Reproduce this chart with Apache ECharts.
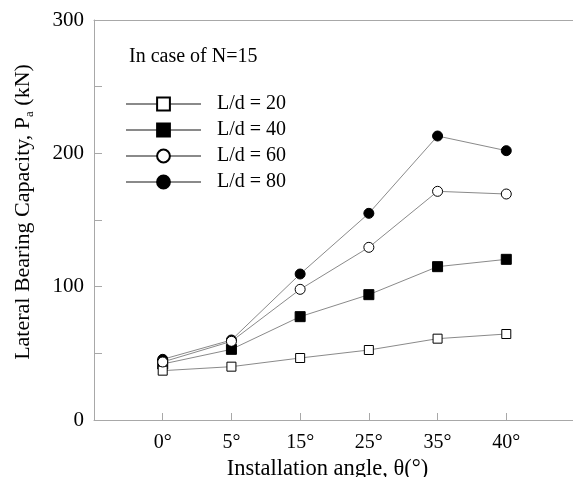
<!DOCTYPE html>
<html><head><meta charset="utf-8">
<script src="https://cdn.jsdelivr.net/npm/echarts@6/dist/echarts.min.js"></script>
<style>html,body{margin:0;padding:0;background:#fff}#c{width:573px;height:477px}</style>
</head><body><div id="c"></div>
<script>
const angles = ['0°', '5°', '15°', '25°', '35°', '40°'];
const ld20 = [37, 40, 46.5, 52.5, 61, 64.5];
const ld40 = [42, 53, 77.5, 94, 115, 120.5];
const ld60 = [43.5, 59, 98, 129.5, 171.5, 169.5];
const ld80 = [45.5, 60, 109.5, 155, 213, 202];
const yTicks = [0, 100, 200, 300];

const F = 'Liberation Serif';
const axisCats = [''].concat(angles, ['']);
const pad = v => [null].concat(v, [null]);
const lineGray = '#8a8a8a';
const axGray = '#a8a8a8';

function ser(name, data, symbol, filled, size) {
  return {
    name, type: 'line', data: pad(data), symbol, symbolSize: size,
    showAllSymbol: true, connectNulls: false,
    lineStyle: { color: lineGray, width: 1 },
    itemStyle: { color: filled ? '#000' : '#fff', borderColor: '#000', borderWidth: 1, opacity: 1 },
    emphasis: { disabled: true }, z: filled ? 3 : 4
  };
}

const chart = echarts.init(document.getElementById('c'), null, { renderer: 'canvas' });
chart.setOption({
  animation: false,
  backgroundColor: '#fff',
  textStyle: { fontFamily: F },
  grid: { left: 94, top: 20, bottom: 57, right: -2, containLabel: false, outerBoundsMode: 'none' },
  xAxis: [{
    type: 'category', data: axisCats, boundaryGap: false,
    axisLine: { lineStyle: { color: axGray } },
    axisTick: { inside: true, length: 7, lineStyle: { color: axGray }, interval: 0 },
    axisLabel: { color: '#000', fontFamily: F, fontSize: 20, margin: 13, interval: 0 },
    splitLine: { show: false },
    name: 'Installation angle, θ(°)', nameLocation: 'middle', nameGap: 37,
    nameTextStyle: { color: '#000', fontFamily: F, fontSize: 22.5, padding: [0, 14, 0, 0] }
  }, {
    type: 'category', data: axisCats, boundaryGap: false, position: 'top',
    axisLine: { show: true, lineStyle: { color: axGray } },
    axisTick: { show: false }, axisLabel: { show: false }, splitLine: { show: false }
  }],
  yAxis: {
    type: 'value', min: 0, max: 300, interval: 50,
    axisLine: { show: true, lineStyle: { color: axGray } },
    axisTick: { show: true, inside: true, length: 8, lineStyle: { color: axGray } },
    axisLabel: { color: '#000', fontFamily: F, fontSize: 21, margin: 10,
      formatter: v => yTicks.includes(v) ? String(v) : '' },
    splitLine: { show: false },
    name: '{n|Lateral Bearing Capacity, P}{s|a}{n| (kN)}',
    nameLocation: 'middle', nameGap: 58,
    nameTextStyle: {
      color: '#000', fontFamily: F, padding: [0, 0, 0, 16],
      rich: {
        n: { fontSize: 22, fontFamily: F, color: '#000', lineHeight: 26 },
        s: { fontSize: 13, fontFamily: F, color: '#000', lineHeight: 13, verticalAlign: 'bottom' }
      }
    }
  },
  legend: {
    orient: 'vertical', left: 125, top: 94, padding: 0,
    itemWidth: 75, itemHeight: 16, itemGap: 6,
    textStyle: { fontFamily: F, fontSize: 20, color: '#000', padding: [0, 0, 0, 11] },
    data: ['L/d = 20', 'L/d = 40', 'L/d = 60', 'L/d = 80']
  },
  graphic: [{ type: 'text', left: 129, top: 47, style: { text: 'In case of N=15', font: '20px "Liberation Serif"', fill: '#000' } }],
  series: [
    ser('L/d = 20', ld20, 'rect', false, 9),
    ser('L/d = 40', ld40, 'rect', true, 10),
    ser('L/d = 60', ld60, 'circle', false, 10),
    ser('L/d = 80', ld80, 'circle', true, 10)
  ]
});
</script>
</body></html>
